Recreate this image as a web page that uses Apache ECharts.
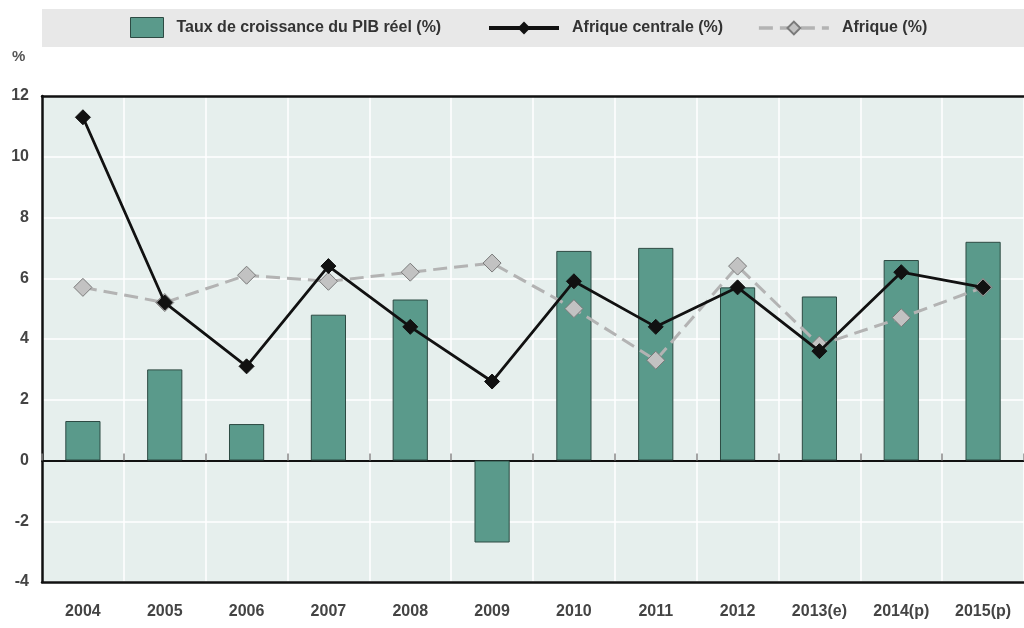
<!DOCTYPE html>
<html><head><meta charset="utf-8">
<script src="https://cdn.jsdelivr.net/npm/echarts@6/dist/echarts.min.js"></script>
<style>html,body{margin:0;padding:0;background:#fff}#c{width:1024px;height:628px}</style>
</head><body><div id="c"></div>
<script>
const categories = ['2004','2005','2006','2007','2008','2009','2010','2011','2012','2013(e)','2014(p)','2015(p)'];
const pibReel = [1.3, 3.0, 1.2, 4.8, 5.3, -2.7, 6.9, 7.0, 5.7, 5.4, 6.6, 7.2];
const afriqueCentrale = [11.3, 5.2, 3.1, 6.4, 4.4, 2.6, 5.9, 4.4, 5.7, 3.6, 6.2, 5.7];
const afrique = [5.7, 5.2, 6.1, 5.9, 6.2, 6.5, 5.0, 3.3, 6.4, 3.8, 4.7, 5.7];
const yTicks = [-4, -2, 0, 2, 4, 6, 8, 10, 12];

const FONT = '"Liberation Sans Narrow", "Liberation Sans", Arial, sans-serif';
const chart = echarts.init(document.getElementById('c'), null, {renderer: 'canvas'});
const gridL = 42, gridT = 96, gridW = 984, gridH = 486;
const legendText = {fontFamily: FONT, fontSize: 16, color: '#333', fontWeight: 'bold', padding: [0, 0, 0, 8]};
chart.setOption({
  animation: false,
  backgroundColor: '#ffffff',
  graphic: [
    {type: 'rect', shape: {x: 42, y: 9, width: 990, height: 38}, style: {fill: '#e8e8e8'}, z: -1},
    {type: 'text', left: 12, top: 49, style: {text: '%', font: 'bold 15px ' + FONT, fill: '#555'}}
  ],
  legend: [{
    top: 12, left: 125,
    itemWidth: 33, itemHeight: 20,
    textStyle: legendText,
    data: [{name: 'Taux de croissance du PIB réel (%)', icon: 'rect', itemStyle: {borderWidth: 1}}]
  }, {
    top: 15, left: 482,
    itemGap: 34,
    itemWidth: 70, itemHeight: 16,
    textStyle: legendText,
    data: [
      {name: 'Afrique centrale (%)', lineStyle: {width: 4}},
      {name: 'Afrique (%)', lineStyle: {width: 3.5}}
    ]
  }],
  grid: {left: gridL, top: gridT, width: gridW, height: gridH, show: true, backgroundColor: '#e6efed', borderWidth: 0, containLabel: false},
  xAxis: [{
    type: 'category', data: categories, position: 'bottom',
    axisLine: {show: true, onZero: false, lineStyle: {color: '#111', width: 2.5}},
    axisTick: {show: false},
    axisLabel: {fontFamily: FONT, fontSize: 16, color: '#444', fontWeight: 'bold', margin: 22},
    splitLine: {show: true, interval: 0, lineStyle: {color: '#ffffff', width: 1.5}}
  }, {
    type: 'category', data: categories, position: 'top',
    axisLine: {show: true, onZero: false, lineStyle: {color: '#111', width: 2.5}},
    axisTick: {show: false}, axisLabel: {show: false}
  }, {
    type: 'category', data: categories, position: 'bottom',
    axisLine: {show: true, onZero: true, lineStyle: {color: '#111', width: 2}},
    axisTick: {show: true, inside: true, length: 7, interval: 0, lineStyle: {color: '#888', width: 1.5}},
    axisLabel: {show: false}
  }],
  yAxis: {
    type: 'value', min: -4, max: 12, interval: 2,
    axisLine: {show: true, onZero: false, lineStyle: {color: '#111', width: 2.5}},
    axisTick: {show: false},
    axisLabel: {fontFamily: FONT, fontSize: 16, color: '#444', fontWeight: 'bold', margin: 13,
      formatter: v => yTicks.includes(v) ? String(v) : ''},
    splitLine: {show: true, lineStyle: {color: '#ffffff', width: 1.5}}
  },
  series: [
    {
      name: 'Taux de croissance du PIB réel (%)', type: 'bar', data: pibReel, barWidth: '43%',
      xAxisIndex: 0,
      itemStyle: {color: '#5a9a8b', borderColor: '#2d4a43', borderWidth: 1},
      z: 2
    },
    {
      name: 'Afrique (%)', type: 'line', data: afrique, xAxisIndex: 0,
      symbol: 'diamond', symbolSize: 18,
      lineStyle: {color: '#b3b3b3', width: 3, type: [14, 7]},
      itemStyle: {color: '#c2c2c2', borderColor: '#7a7a7a', borderWidth: 1},
      z: 3
    },
    {
      name: 'Afrique centrale (%)', type: 'line', data: afriqueCentrale, xAxisIndex: 0,
      symbol: 'diamond', symbolSize: 15,
      lineStyle: {color: '#111', width: 2.8},
      itemStyle: {color: '#111', borderColor: '#111'},
      z: 4
    }
  ]
});
</script></body></html>
